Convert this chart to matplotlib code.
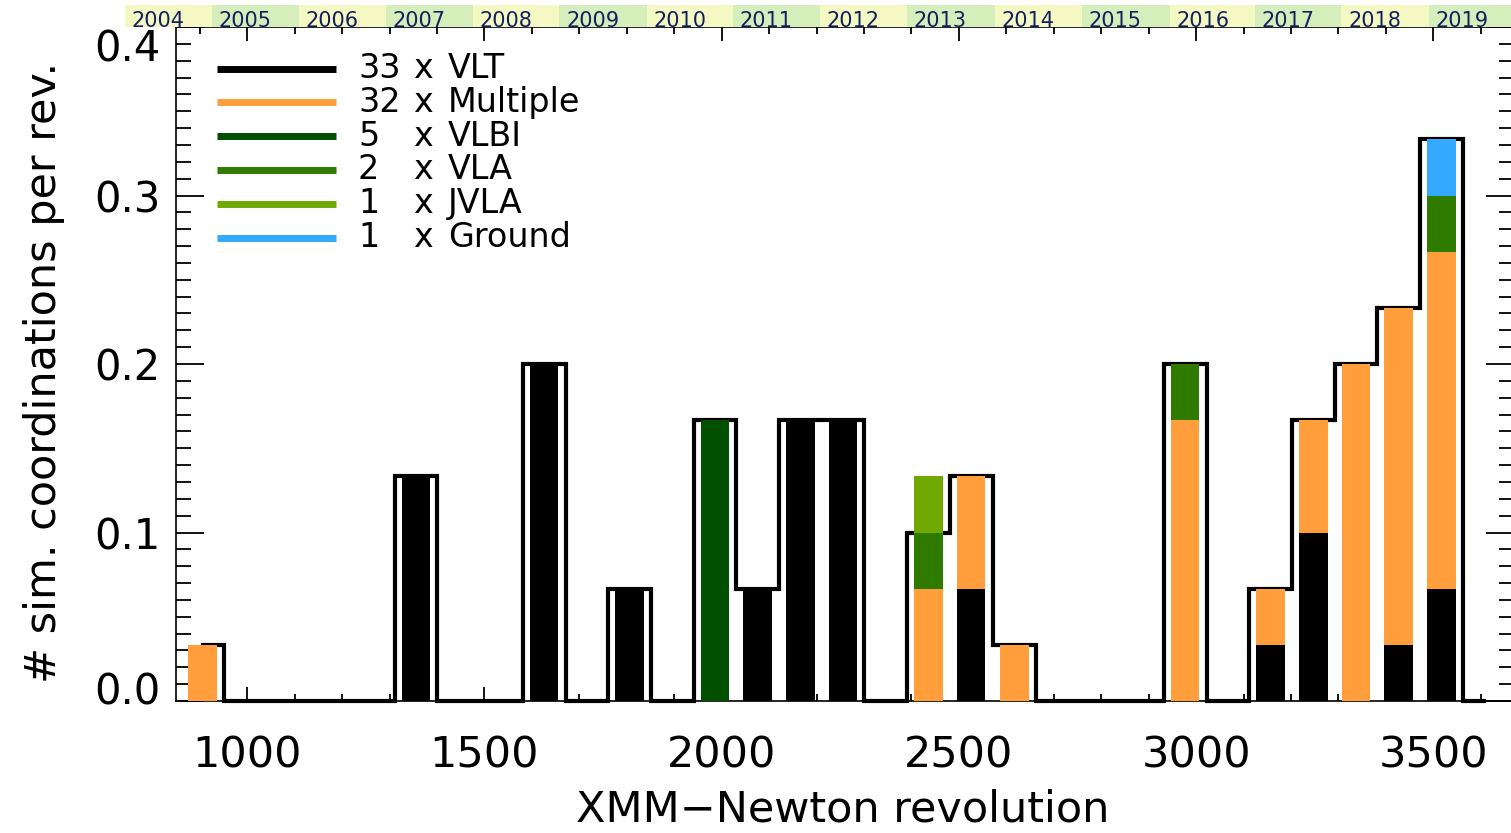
import numpy as np
import matplotlib
matplotlib.use("Agg")
from matplotlib import pyplot as plt
from matplotlib.lines import Line2D
from matplotlib.ticker import MultipleLocator
from matplotlib.transforms import ScaledTranslation

# histogram bins (XMM-Newton revolution, bin centres)
bin_centres = [906, 996, 1086, 1176, 1266, 1356, 1446, 1536, 1626, 1716,
               1806, 1896, 1986, 2076, 2166, 2256, 2346, 2436, 2526, 2617,
               2707, 2797, 2887, 2977, 3067, 3157, 3247, 3337, 3427, 3517, 3607]

# coordinations per bin, in units of 1/30 per rev
outline = [1, 0, 0, 0, 0, 4, 0, 0, 6, 0, 2, 0, 5, 2, 5, 5, 0, 3, 4, 1,
           0, 0, 0, 6, 0, 2, 5, 6, 7, 10, 0]
vlt      = [0, 0, 0, 0, 0, 4, 0, 0, 6, 0, 2, 0, 0, 2, 5, 5, 0, 0, 2, 0,
            0, 0, 0, 0, 0, 1, 3, 0, 1, 2, 0]
multiple = [1, 0, 0, 0, 0, 0, 0, 0, 0, 0, 0, 0, 0, 0, 0, 0, 0, 2, 2, 1,
            0, 0, 0, 5, 0, 1, 2, 6, 6, 6, 0]
vlbi     = [0, 0, 0, 0, 0, 0, 0, 0, 0, 0, 0, 0, 5, 0, 0, 0, 0, 0, 0, 0,
            0, 0, 0, 0, 0, 0, 0, 0, 0, 0, 0]
vla      = [0, 0, 0, 0, 0, 0, 0, 0, 0, 0, 0, 0, 0, 0, 0, 0, 0, 1, 0, 0,
            0, 0, 0, 1, 0, 0, 0, 0, 0, 1, 0]
jvla     = [0, 0, 0, 0, 0, 0, 0, 0, 0, 0, 0, 0, 0, 0, 0, 0, 0, 1, 0, 0,
            0, 0, 0, 0, 0, 0, 0, 0, 0, 0, 0]
ground   = [0, 0, 0, 0, 0, 0, 0, 0, 0, 0, 0, 0, 0, 0, 0, 0, 0, 0, 0, 0,
            0, 0, 0, 0, 0, 0, 0, 0, 0, 1, 0]
unit = 30.0

names = ['VLT', 'Multiple', 'VLBI', 'VLA', 'JVLA', 'Ground']
totals = [33, 32, 5, 2, 1, 1]
colors = ['#000000', '#ff9e3a', '#005000', '#2e7b00', '#6fa800', '#33aaff']

# revolution at the start of each year
years = list(range(2004, 2020))
year_start = [742, 925, 1109, 1292, 1475, 1658, 1842, 2023, 2207, 2390,
              2576, 2759, 2944, 3124, 3306, 3490, 3673]

W, H = 1511, 833
def fx(px): return px / W
def fy(py): return 1 - py / H

fig = plt.figure(figsize=(W / 100, H / 100), dpi=100)
plt.rcParams['font.family'] = 'DejaVu Sans'

x0, x1 = 850, 3670
ax = fig.add_axes([fx(176), fy(701), (1514 - 176) / W, (701 - 27) / H])
ax.set_xlim(x0, x1)
ax.set_ylim(0, 0.4)

centres = np.array(bin_centres, dtype=float)
ax.step(centres, np.array(outline) / unit, where='mid', color='k', lw=3,
        zorder=2, clip_on=False, solid_joinstyle='miter')

cum = np.zeros(len(centres))
for vals, c in zip([vlt, multiple, vlbi, vla, jvla, ground], colors):
    v = np.array(vals) / unit
    ax.bar(centres, v, width=60, bottom=cum, color=c, linewidth=0, zorder=3)
    cum += v

for s in ax.spines.values():
    s.set_linewidth(1.2)
ax.xaxis.set_major_locator(MultipleLocator(500))
ax.xaxis.set_minor_locator(MultipleLocator(100))
ax.yaxis.set_major_locator(MultipleLocator(0.1))
ax.yaxis.set_minor_locator(MultipleLocator(0.01))
ax.tick_params(axis='x', which='both', direction='in', top=True, width=1.3)
ax.tick_params(axis='x', which='major', length=10, labelsize=31, pad=24)
ax.tick_params(axis='x', which='minor', length=5)
ax.tick_params(axis='y', which='both', direction='in', right=True, width=1.3)
ax.tick_params(axis='y', which='major', length=20, labelsize=30, pad=11)
ax.tick_params(axis='y', which='minor', length=11)
ax.set_yticks([0, 0.1, 0.2, 0.3, 0.4])
ax.set_yticklabels(['0.0', '0.1', '0.2', '0.3', '0.4'])
yt = ax.yaxis.get_major_ticks()
yt[0].label1.set_transform(yt[0].label1.get_transform() +
                           ScaledTranslation(0, 0.13, fig.dpi_scale_trans))
yt[-1].label1.set_transform(yt[-1].label1.get_transform() +
                            ScaledTranslation(0, -0.18, fig.dpi_scale_trans))

fig.text(fx(843), fy(822), 'XMM\u2212Newton revolution', fontsize=31,
         ha='center', va='baseline')
fig.text(fx(44), fy(372), '# sim. coordinations per rev.', fontsize=31,
         rotation=90, ha='center', va='center')

# year band on top
scale = 1338 / (x1 - x0)
band = fig.add_axes([0, fy(27), 1514 / W, (27 - 5) / H])
band.set_xlim(x0 - 176 / scale, x1)
band.set_ylim(0, 1)
band.axis('off')
for i, yr in enumerate(years):
    c = '#f4f9c4' if i % 2 == 0 else '#d6eebb'
    band.axvspan(year_start[i], year_start[i + 1], color=c, lw=0)
    band.annotate(str(yr), (year_start[i], 0.02), xytext=(5, 0),
                  textcoords='offset points', fontsize=15, color='#14205e',
                  ha='left', va='baseline')

# legend
for i in range(len(names)):
    yc = 68.5 + 33.8 * i
    fig.add_artist(Line2D([fx(217), fx(336)], [fy(yc), fy(yc)], color=colors[i],
                          lw=5, solid_capstyle='butt'))
    fig.text(fx(358), fy(yc), str(totals[i]), fontsize=24, va='center', ha='left')
    fig.text(fx(413), fy(yc), 'x', fontsize=24, va='center', ha='left')
    fig.text(fx(448), fy(yc), names[i], fontsize=24, va='center', ha='left')

fig.savefig('out.png', dpi=100)
